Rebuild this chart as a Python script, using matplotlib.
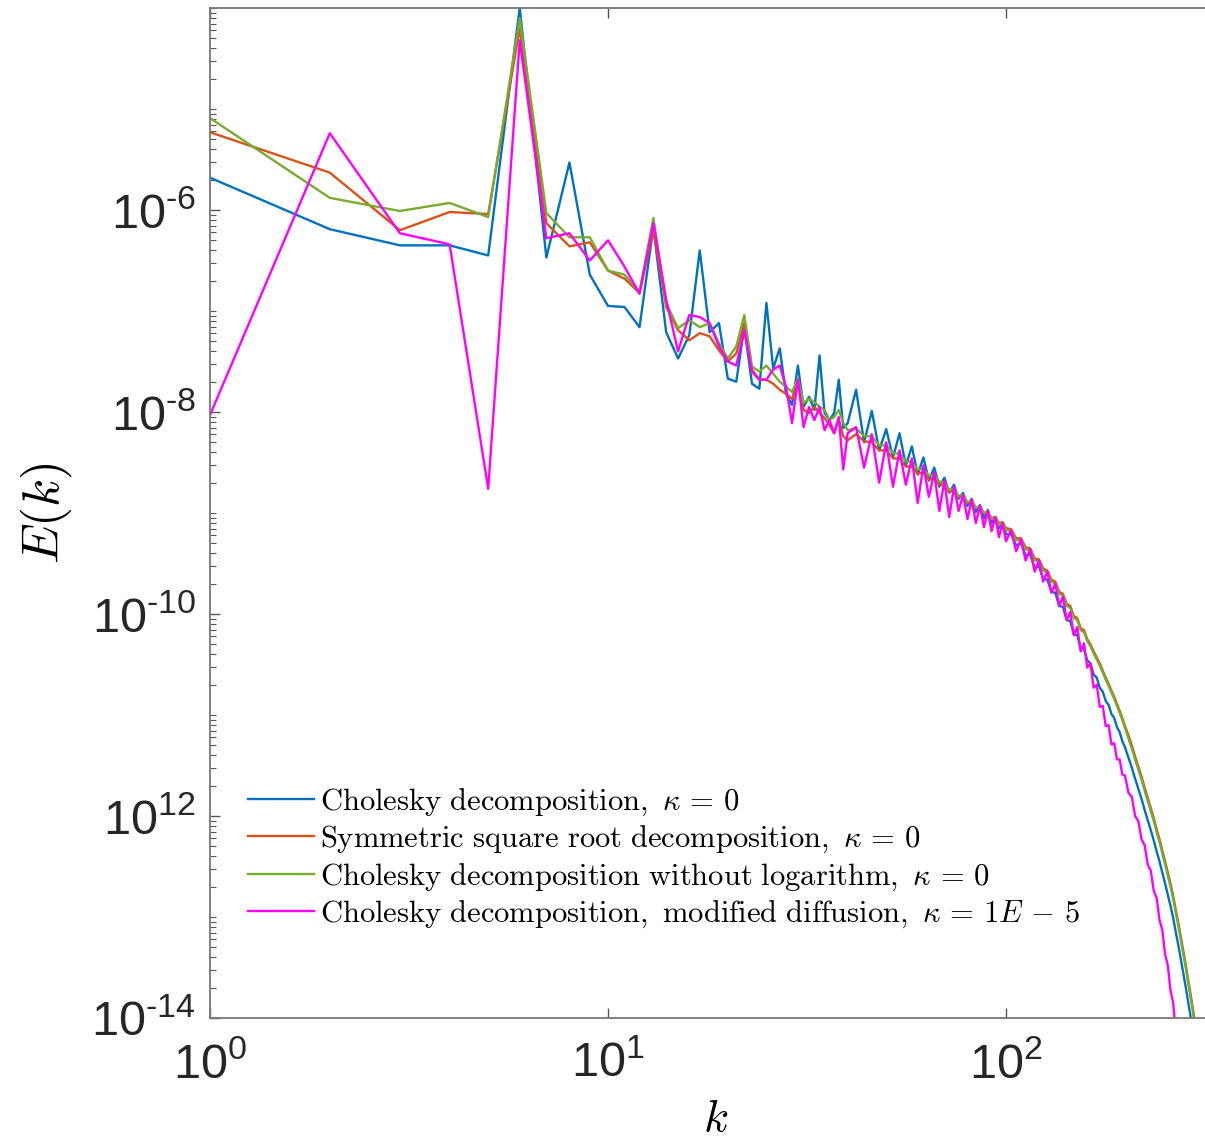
import numpy as np
import matplotlib
matplotlib.use("Agg")
import matplotlib.pyplot as plt
from matplotlib.font_manager import FontProperties
from matplotlib.ticker import FixedLocator, LogLocator, NullFormatter, NullLocator

plt.rcParams['font.family'] = ['Liberation Sans', 'DejaVu Sans']
plt.rcParams['mathtext.fontset'] = 'custom'
plt.rcParams['mathtext.rm'] = 'Liberation Sans'
plt.rcParams['mathtext.it'] = 'Liberation Sans:italic'

# wavenumber grid: every k up to 40, then every 2nd, 3rd and 4th k
k = np.concatenate([np.arange(1, 41), np.arange(42, 101, 2),
                    np.arange(103, 200, 3), np.arange(203, 304, 4)])

# log10 E(k)
cholesky = [
    -5.68, -6.19, -6.35, -6.35, -6.45, -4.00, -6.47, -5.53, -6.64, -6.95,
    -6.96, -7.16, -6.17, -7.21, -7.47, -7.24, -6.40, -7.21, -7.12, -7.67,
    -7.70, -7.16, -7.72, -7.77, -6.92, -7.57, -7.37, -7.82, -7.93, -7.54,
    -7.95, -7.85, -7.98, -7.44, -8.01, -8.08, -8.01, -7.68, -8.16, -8.11,
    -7.78, -8.30, -7.99, -8.38, -8.17, -8.45, -8.21, -8.53, -8.34, -8.62,
    -8.45, -8.68, -8.55, -8.74, -8.65, -8.80, -8.72, -8.86, -8.80, -8.93,
    -8.86, -8.99, -8.92, -9.05, -8.97, -9.10, -9.04, -9.15, -9.10, -9.21,
    -9.21, -9.32, -9.30, -9.42, -9.41, -9.54, -9.53, -9.65, -9.66, -9.78,
    -9.79, -9.92, -9.93, -10.06, -10.07, -10.20, -10.21, -10.34, -10.35, -10.46,
    -10.49, -10.60, -10.63, -10.73, -10.77, -10.86, -10.90, -10.99, -11.03, -11.12,
    -11.17, -11.26, -11.32,
    -11.42, -11.52, -11.63, -11.73, -11.83, -11.94, -12.04, -12.14, -12.24, -12.35,
    -12.45, -12.56, -12.67, -12.78, -12.89, -13.01, -13.15, -13.28, -13.42, -13.56,
    -13.70, -13.85, -13.99, -14.14, -14.28, -14.43,
]
symmetric_sqrt = [
    -5.23, -5.63, -6.20, -6.02, -6.04, -4.20, -6.13, -6.36, -6.32, -6.60,
    -6.68, -6.82, -6.20, -6.96, -7.19, -7.29, -7.22, -7.25, -7.39, -7.50,
    -7.42, -7.12, -7.58, -7.68, -7.68, -7.72, -7.78, -7.82, -7.87, -7.72,
    -7.98, -8.01, -7.95, -8.01, -8.06, -8.13, -8.21, -8.08, -8.24, -8.28,
    -8.22, -8.29, -8.30, -8.38, -8.38, -8.46, -8.46, -8.54, -8.54, -8.61,
    -8.60, -8.67, -8.66, -8.72, -8.73, -8.79, -8.78, -8.84, -8.83, -8.90,
    -8.88, -8.95, -8.94, -9.00, -8.99, -9.05, -9.04, -9.10, -9.09, -9.15,
    -9.16, -9.25, -9.25, -9.34, -9.35, -9.45, -9.46, -9.55, -9.57, -9.66,
    -9.68, -9.78, -9.80, -9.90, -9.92, -10.02, -10.04, -10.14, -10.16, -10.25,
    -10.30, -10.37, -10.43, -10.49, -10.56, -10.63, -10.69, -10.76, -10.82, -10.89,
    -10.96, -11.03, -11.11,
    -11.20, -11.30, -11.41, -11.51, -11.61, -11.72, -11.82, -11.92, -12.02, -12.13,
    -12.23, -12.34, -12.45, -12.56, -12.67, -12.79, -12.93, -13.06, -13.20, -13.34,
    -13.48, -13.63, -13.77, -13.92, -14.06, -14.21,
]
no_log = [
    -5.09, -5.88, -6.01, -5.93, -6.07, -4.10, -6.03, -6.27, -6.27, -6.60,
    -6.64, -6.81, -6.08, -6.92, -7.17, -7.09, -7.16, -7.12, -7.32, -7.47,
    -7.35, -7.04, -7.55, -7.60, -7.54, -7.62, -7.70, -7.75, -7.80, -7.67,
    -7.91, -7.87, -7.90, -7.95, -7.98, -8.08, -8.05, -7.98, -8.11, -8.18,
    -8.16, -8.24, -8.24, -8.33, -8.33, -8.41, -8.41, -8.49, -8.49, -8.57,
    -8.56, -8.63, -8.62, -8.69, -8.70, -8.77, -8.76, -8.83, -8.82, -8.89,
    -8.88, -8.95, -8.94, -9.00, -8.99, -9.06, -9.05, -9.12, -9.10, -9.17,
    -9.18, -9.27, -9.27, -9.36, -9.37, -9.47, -9.48, -9.57, -9.59, -9.68,
    -9.70, -9.80, -9.82, -9.92, -9.94, -10.04, -10.06, -10.16, -10.18, -10.27,
    -10.32, -10.39, -10.45, -10.51, -10.58, -10.65, -10.71, -10.78, -10.84, -10.91,
    -10.98, -11.05, -11.13,
    -11.23, -11.33, -11.44, -11.54, -11.64, -11.75, -11.85, -11.95, -12.05, -12.16,
    -12.26, -12.37, -12.48, -12.59, -12.70, -12.82, -12.96, -13.09, -13.23, -13.37,
    -13.51, -13.66, -13.80, -13.95, -14.09, -14.24,
]
modified_diff = [
    -8.03, -5.24, -6.23, -6.34, -8.76, -4.32, -6.28, -6.23, -6.50, -6.30,
    -6.56, -6.83, -6.13, -6.89, -7.40, -7.04, -7.06, -7.12, -7.35, -7.50,
    -7.54, -7.19, -7.60, -7.68, -7.68, -7.58, -7.54, -7.75, -8.11, -7.68,
    -8.15, -7.95, -8.08, -7.95, -8.18, -8.08, -8.21, -8.05, -8.57, -8.21,
    -8.15, -8.55, -8.22, -8.70, -8.30, -8.74, -8.38, -8.72, -8.46, -8.90,
    -8.53, -8.84, -8.60, -8.98, -8.68, -9.04, -8.74, -8.98, -8.82, -9.06,
    -8.87, -9.10, -8.93, -9.14, -8.98, -9.18, -9.04, -9.24, -9.10, -9.28,
    -9.17, -9.38, -9.26, -9.47, -9.36, -9.58, -9.47, -9.68, -9.58, -9.79,
    -9.70, -9.92, -9.83, -10.06, -9.98, -10.21, -10.13, -10.37, -10.29, -10.53,
    -10.49, -10.73, -10.70, -10.92, -10.91, -11.11, -11.10, -11.29, -11.28, -11.44,
    -11.44, -11.59, -11.60,
    -11.77, -11.81, -12.00, -12.05, -12.23, -12.29, -12.48, -12.54, -12.74, -12.81,
    -13.03, -13.13, -13.37, -13.48, -13.73, -13.85, -14.14, -14.35, -14.60, -14.85,
    -15.10, -15.35, -15.60, -15.85, -16.10, -16.35,
]

labels = [
    r'$\mathrm{Cholesky\ decomposition,}\ \kappa\,=\,0$',
    r'$\mathrm{Symmetric\ square\ root\ decomposition,}\ \kappa\,=\,0$',
    r'$\mathrm{Cholesky\ decomposition\ without\ logarithm,}\ \kappa\,=\,0$',
    r'$\mathrm{Cholesky\ decomposition,\ modified\ diffusion,}\ \kappa\,=\,1E\,-\,5$',
]
colors = ['#0072BD', '#D95319', '#77AC30', '#FF00FF']

ytick_vals = [1e-14, 1e-12, 1e-10, 1e-8, 1e-6]
ytick_text = ['$10^{\u201014}$', '$10^{12}$', '$10^{\u201010}$', '$10^{\u20108}$', '$10^{\u20106}$']
xtick_vals = [1, 10, 100]
xtick_text = ['$10^{0}$', '$10^{1}$', '$10^{2}$']

fig = plt.figure(figsize=(12.05, 11.45), dpi=100)
ax = fig.add_axes([210 / 1205, 127 / 1145, 1003 / 1205, 1010 / 1145])

series = [cholesky, symmetric_sqrt, no_log, modified_diff]
for vals, c, lab in zip(series, colors, labels):
    ax.loglog(k, 10 ** np.array(vals), color=c, lw=1.7, label=lab)

ax.set_xlim(1, 10 ** 2.52)
ax.set_ylim(1e-14, 10 ** -4.0)

ax.xaxis.set_major_locator(FixedLocator(xtick_vals))
ax.set_xticklabels(xtick_text)
ax.xaxis.set_minor_locator(NullLocator())
ax.yaxis.set_major_locator(FixedLocator(ytick_vals))
ax.set_yticklabels(ytick_text)
ax.yaxis.set_minor_locator(LogLocator(base=10, subs=np.arange(1, 10), numticks=100))
ax.yaxis.set_minor_formatter(NullFormatter())

ax.tick_params(which='both', direction='in', top=True, right=False, colors='#555555',
               labelcolor='#262626')
ax.tick_params(which='major', length=7.5, width=1.0, labelsize=35)
ax.tick_params(axis='x', which='major', pad=17)
ax.tick_params(axis='y', which='major', pad=10)
ax.tick_params(which='minor', length=4, width=0.8)
for s in ax.spines.values():
    s.set_color('#777777')
    s.set_linewidth(1.3)

ax.set_xlabel(r'$k$', fontsize=33, math_fontfamily='cm', va='center')
ax.xaxis.set_label_coords(0.504, -0.1)
ax.set_ylabel(r'$E(k)$', fontsize=37, math_fontfamily='cm', va='center')
ax.yaxis.set_label_coords(-0.163, 0.5)

leg = ax.legend(loc='upper left', bbox_to_anchor=(0.038, 0.229), frameon=False,
                prop=FontProperties(size=22, math_fontfamily='cm'),
                handlelength=2.15, handletextpad=0.2, labelspacing=0.19,
                borderpad=0, borderaxespad=0)

fig.savefig('out.png', dpi=100)
